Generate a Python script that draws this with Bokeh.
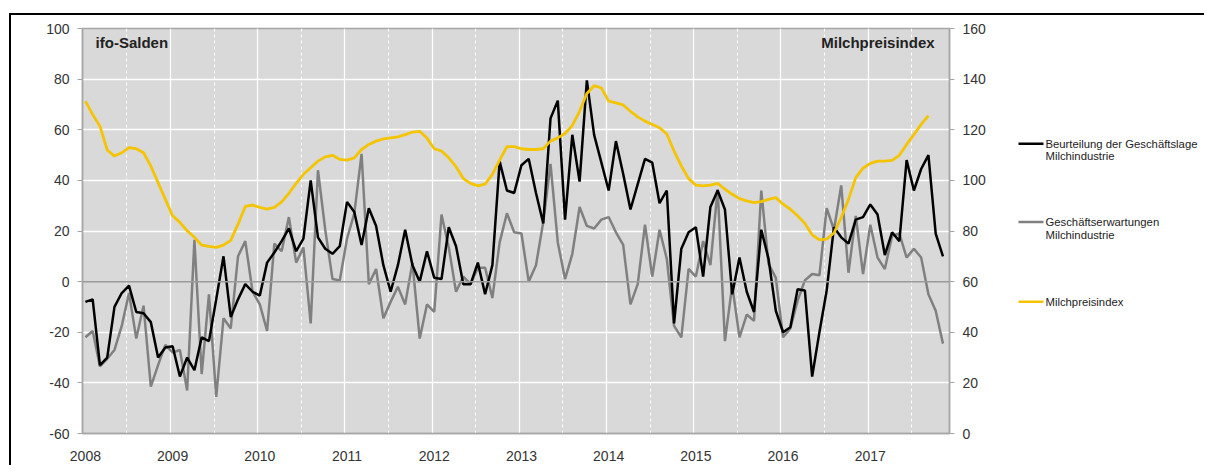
from bokeh.plotting import figure
from bokeh.models import Range1d, LinearAxis, FixedTicker, Grid, Span, Label
from bokeh.layouts import row
from bokeh.embed import file_html
from bokeh.resources import INLINE
from bokeh.core.properties import value

years = ["2008", "2009", "2010", "2011", "2012", "2013", "2014", "2015", "2016", "2017"]

# Beurteilung der Geschäftslage Milchindustrie (ifo-Salden), monthly from Jan 2008
lage = [-8, -7, -33, -30, -10, -4.5, -1.6, -12, -12.5, -16, -30, -26,
        -25.5, -37.5, -30, -35, -22, -23.5, -7, 10, -14, -7, -1, -4,
        -5.5, 7.5, 11.5, 16, 21, 12, 17, 40, 17.5, 13, 11, 14,
        31.5, 27.5, 14.5, 29, 22, 6.5, -4, 6.5, 20.5, 6.5, 0, 12,
        1.5, 1, 21.5, 14, -1, -1, 7.5, -5, 6.5, 47.5, 36, 35,
        46, 48.5, 35, 23, 64.5, 71.5, 24.5, 58, 39.5, 79.5, 58, 47,
        36, 55.5, 42.5, 28.5, 38.5, 48.5, 47, 31, 36, -16.5, 13, 19.5,
        21.5, 2, 29.5, 36, 28.5, -5, 9.5, -4, -12, 20.5, 9, -11.5,
        -20, -18, -3, -3.5, -37.5, -20, -3.5, 21.5, 17.5, 15, 24.5, 25.5,
        30.5, 26.5, 10.5, 19.5, 16, 48, 36, 44.5, 50, 19, 10]

# Geschäftserwartungen Milchindustrie (ifo-Salden)
erw = [-22, -19.5, -33.5, -30.5, -27, -17.5, -4.5, -22.5, -9.5, -41.5, -33, -25,
       -28, -27, -43, 16.5, -36.5, -5, -45.5, -14.5, -18.5, 10, 16, -4,
       -9, -19.5, 15, 12, 25.5, 7.5, 13.5, -16.5, 44, 20.5, 1, 0.5,
       17, 27, 50.5, -1, 5, -14.5, -8, -2, -9, 7.5, -22.5, -9,
       -12, 26.5, 13.5, -4, 2, -1, 5.5, 5.5, -6.5, 15.5, 27, 19.5,
       19, 0, 6.5, 23.5, 46.5, 15.5, 1, 11, 29.5, 22, 21, 24.5,
       25.5, 19.5, 14.5, -9, -1, 22.5, 2, 20.5, 9, -17.5, -22, 5,
       2, 16, 6.5, 36.5, -23.5, -1.5, -22, -13, -15.5, 36, 7, 1.5,
       -22, -18.5, -7.5, 0.5, 3, 2.5, 29, 20.5, 38, 3.5, 26, 3,
       22.5, 9.5, 5, 18, 19, 9.5, 13, 9.5, -5, -11.5, -24.5]

# Milchpreisindex (right axis)
milch = [131.3, 126, 121.4, 112, 109.6, 110.9, 112.9, 112.5, 110.9, 105.7, 99.1, 92.5,
         86, 83.4, 80.1, 77.5, 74.4, 73.9, 73.5, 74.4, 76.3, 82.7, 89.7, 90.2,
         89.3, 88.6, 89.3, 91.5, 94.9, 98.8, 102.4, 105, 107.6, 109.3, 109.9, 108.3,
         108, 108.9, 112.2, 114.2, 115.5, 116.4, 116.8, 117.2, 118.1, 119.1, 119.4, 116.7,
         112.5, 111.6, 108.9, 105.4, 100.7, 98.8, 97.8, 98.5, 102.4, 108, 113.3, 113.3,
         112.5, 112.2, 112.2, 112.5, 115.5, 116.8, 118.5, 121.7, 127.3, 134.3, 137.4, 136.5,
         131.3, 130.6, 129.8, 127.3, 125.1, 123.4, 122.1, 120.8, 118.3, 111.6, 105.7, 100.7,
         98.1, 97.8, 98.1, 98.8, 96.5, 94.5, 92.8, 91.9, 91.2, 91.6, 92.5, 93.2,
         90.6, 88.6, 86, 83, 78.5, 76.5, 76.8, 79.2, 85.3, 92.5, 101.1, 104.8,
         106.7, 107.6, 107.6, 107.9, 109.9, 114.2, 118.1, 122.1, 125.6]

left_ticks = [-60, -40, -20, 0, 20, 40, 60, 80, 100]
right_ticks = [0, 20, 40, 60, 80, 100, 120, 140, 160]

legend_names = ["Beurteilung der Geschäftslage\nMilchindustrie",
                "Geschäftserwartungen\nMilchindustrie",
                "Milchpreisindex"]

FONT = "Liberation Sans"
GRID_GREY = "#a6a6a6"
TXT = "#333333"

x_lage = list(range(len(lage)))
x_erw = list(range(len(erw)))
x_milch = list(range(len(milch)))

H = 452

p = figure(width=989, height=H,
           x_range=Range1d(-0.4, 118.9), y_range=Range1d(-60, 100),
           output_backend="svg", toolbar_location=None,
           min_border_left=71, min_border_right=51,
           min_border_top=13, min_border_bottom=H - 13 - 405)
p.extra_y_ranges = {"r": Range1d(0, 160)}
p.background_fill_color = "#d9d9d9"
p.border_fill_color = "white"
p.outline_line_color = GRID_GREY
p.outline_line_width = 1.5

# bottom axis
year_pos = [12 * i for i in range(len(years))]
p.xaxis.ticker = FixedTicker(ticks=year_pos)
p.xaxis.major_label_overrides = {pos: y for pos, y in zip(year_pos, years)}
p.xaxis.major_tick_line_color = None
p.xaxis.minor_tick_line_color = None
p.xaxis.axis_line_color = GRID_GREY
p.xaxis.axis_line_width = 1.5
p.xaxis.major_label_standoff = 11
p.xaxis.major_label_text_font = FONT
p.xaxis.major_label_text_font_size = "14px"
p.xaxis.major_label_text_color = TXT

# left axis
p.yaxis.ticker = FixedTicker(ticks=left_ticks)
p.yaxis.major_label_overrides = {t: str(t) for t in left_ticks}
p.yaxis.major_tick_out = 5
p.yaxis.major_tick_in = 0
p.yaxis.minor_tick_line_color = None
p.yaxis.major_tick_line_color = GRID_GREY
p.yaxis.axis_line_color = GRID_GREY
p.yaxis.axis_line_width = 1.5
p.yaxis.major_label_standoff = 8
p.yaxis.major_label_text_font = FONT
p.yaxis.major_label_text_font_size = "14px"
p.yaxis.major_label_text_color = TXT

# right axis
ax_r = LinearAxis(y_range_name="r", ticker=FixedTicker(ticks=right_ticks))
ax_r.major_tick_out = 5
ax_r.major_tick_in = 0
ax_r.minor_tick_line_color = None
ax_r.major_tick_line_color = GRID_GREY
ax_r.axis_line_color = GRID_GREY
ax_r.axis_line_width = 1.5
ax_r.major_label_standoff = 8
ax_r.major_label_text_font = FONT
ax_r.major_label_text_font_size = "14px"
ax_r.major_label_text_color = TXT
p.add_layout(ax_r, "right")

# grids
p.ygrid.ticker = FixedTicker(ticks=[t for t in left_ticks if t not in (0, -60, 100)])
p.ygrid.grid_line_color = "white"
p.ygrid.grid_line_width = 1.3
p.xgrid.ticker = FixedTicker(ticks=[12 * i - 0.3 for i in range(1, len(years))])
p.xgrid.grid_line_color = "white"
p.xgrid.grid_line_width = 1.3
half = Grid(dimension=0, ticker=FixedTicker(ticks=[12 * i + 5.7 for i in range(len(years))]),
            grid_line_color="white", grid_line_width=1.0, grid_line_dash="3 3")
p.add_layout(half)
p.add_layout(Span(location=0, dimension="width", line_color="#9a9a9a", line_width=1.5))

# series
p.line(x_erw, erw, line_color="#808080", line_width=2.5)
p.line(x_lage, lage, line_color="black", line_width=2.5)
p.line(x_milch, milch, y_range_name="r", line_color="#F5C400", line_width=2.8)

p.add_layout(Label(x=1.4, y=94.6, text="ifo-Salden", text_font=FONT, text_font_style="bold",
                   text_font_size="15px", text_baseline="middle", text_color="#222222"))
p.add_layout(Label(x=116.85, y=94.6, text="Milchpreisindex", text_font=FONT, text_font_style="bold",
                   text_font_size="15px", text_baseline="middle", text_align="right",
                   text_color="#222222"))

# legend panel (coordinates are page pixels)
QW = 206
q = figure(width=QW, height=H, x_range=Range1d(1000, 1000 + QW), y_range=Range1d(15 + H, 15),
           output_backend="svg", toolbar_location=None,
           x_axis_location=None, y_axis_location=None, min_border=0)
q.outline_line_color = None
q.xgrid.visible = False
q.ygrid.visible = False
q.background_fill_color = "white"
q.border_fill_color = "white"

leg_y = [143.5, 231, 320]
leg_colors = ["black", "#808080", "#F5C400"]
q.segment(x0=[1020] * 3, y0=leg_y, x1=[1045] * 3, y1=leg_y, line_color=leg_colors, line_width=2.5)
tx, ty, tt = [], [], []
for yy, name in zip(leg_y, legend_names):
    for k, part in enumerate(name.split("\n")):
        tx.append(1047)
        ty.append(yy + k * 14)
        tt.append(part)
q.text(x=tx, y=ty, text=tt, text_baseline="middle", text_font=value(FONT),
       text_font_size="11.3px", text_color="#222222")

# outer chart box: left and top edges only
p.styles = {"border-left": "2px solid black", "border-top": "2px solid black"}
q.styles = {"border-top": "2px solid black"}

lay = row(p, q)
lay.styles = {"margin-left": "9px", "margin-top": "13px"}

open("out.html", "w").write(file_html(lay, INLINE))
